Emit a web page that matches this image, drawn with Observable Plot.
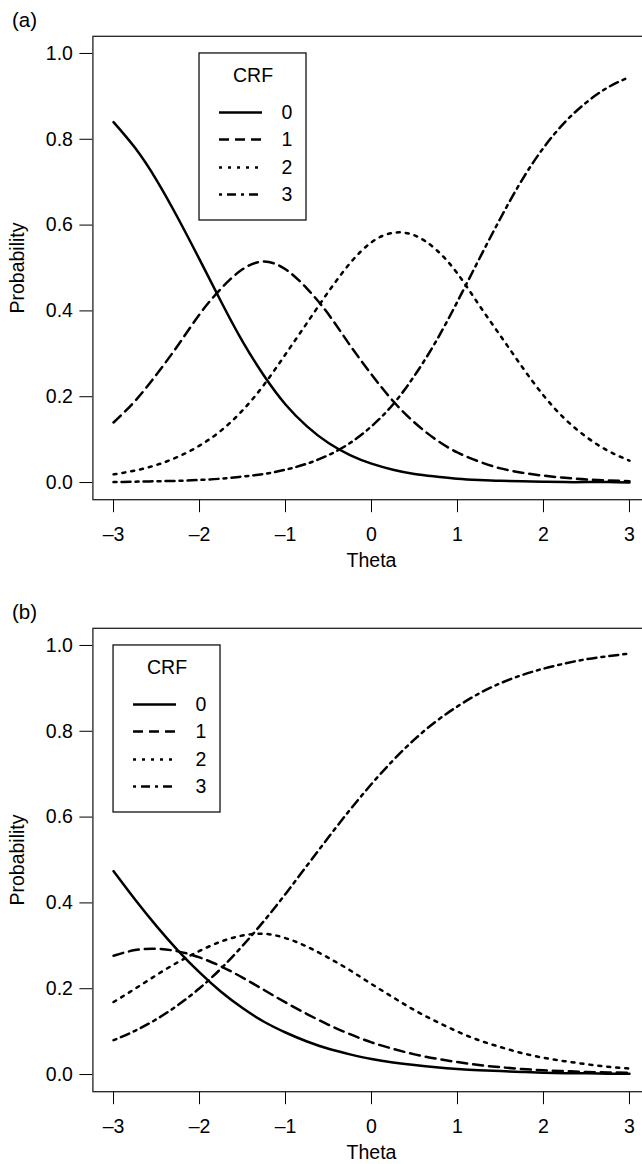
<!DOCTYPE html>
<html><head><meta charset="utf-8">
<script src="https://cdn.jsdelivr.net/npm/d3@7"></script>
<script src="https://cdn.jsdelivr.net/npm/@observablehq/plot@0.6"></script>
<style>
html,body{margin:0;padding:0;background:#fff;overflow:hidden;width:642px;}
#chart svg{display:block;}
</style></head><body><div id="chart"></div>
<script>
// ---- data ----
const theta = [-3, -2.75, -2.5, -2.25, -2, -1.75, -1.5, -1.25, -1, -0.75, -0.5, -0.25, 0,
               0.25, 0.5, 0.75, 1, 1.25, 1.5, 1.75, 2, 2.25, 2.5, 2.75, 3];
const categories = ["0", "1", "2", "3"];

// panel (a)
const a_cat0 = [0.840, 0.780, 0.705, 0.616, 0.520, 0.422, 0.329, 0.249, 0.182, 0.131, 0.092, 0.064, 0.044,
                0.030, 0.020, 0.014, 0.009, 0.006, 0.004, 0.003, 0.002, 0.001, 0.001, 0.001, 0.000];
const a_cat1 = [0.140, 0.190, 0.252, 0.320, 0.392, 0.452, 0.497, 0.515, 0.497, 0.452, 0.392, 0.320, 0.252,
                0.190, 0.140, 0.100, 0.070, 0.049, 0.033, 0.023, 0.016, 0.011, 0.007, 0.005, 0.003];
const a_cat2 = [0.019, 0.028, 0.041, 0.060, 0.086, 0.121, 0.168, 0.228, 0.299, 0.372, 0.445, 0.511, 0.560,
                0.582, 0.576, 0.543, 0.487, 0.414, 0.342, 0.270, 0.203, 0.148, 0.106, 0.074, 0.051];
const a_cat3 = [0.001, 0.002, 0.003, 0.004, 0.006, 0.009, 0.014, 0.020, 0.030, 0.044, 0.064, 0.092, 0.131,
                0.182, 0.249, 0.329, 0.422, 0.520, 0.616, 0.705, 0.780, 0.840, 0.886, 0.921, 0.945];

// panel (b)
const b_cat0 = [0.474, 0.408, 0.346, 0.289, 0.238, 0.193, 0.155, 0.123, 0.098, 0.077, 0.060, 0.047, 0.036,
                0.028, 0.022, 0.017, 0.013, 0.010, 0.008, 0.006, 0.004, 0.003, 0.003, 0.002, 0.002];
const b_cat1 = [0.277, 0.290, 0.293, 0.287, 0.273, 0.252, 0.226, 0.197, 0.168, 0.141, 0.116, 0.094, 0.075,
                0.060, 0.047, 0.037, 0.029, 0.022, 0.017, 0.013, 0.010, 0.008, 0.006, 0.005, 0.004];
const b_cat2 = [0.169, 0.200, 0.232, 0.262, 0.288, 0.310, 0.324, 0.328, 0.318, 0.298, 0.272, 0.243, 0.211,
                0.180, 0.150, 0.124, 0.100, 0.080, 0.064, 0.050, 0.039, 0.031, 0.024, 0.018, 0.014];
const b_cat3 = [0.080, 0.102, 0.129, 0.162, 0.201, 0.247, 0.300, 0.358, 0.421, 0.487, 0.553, 0.617, 0.677,
                0.732, 0.781, 0.823, 0.858, 0.888, 0.912, 0.931, 0.946, 0.958, 0.968, 0.975, 0.981];

const xTicks = [-3, -2, -1, 0, 1, 2, 3];
const yTicks = [0, 0.2, 0.4, 0.6, 0.8, 1.0];
const panelTags = ["(a)", "(b)"];
const legendTitle = "CRF";
const xLabel = "Theta";
const yLabel = "Probability";

// ---- styling ----
const dashes = [null, "10,6", "3,6", "3,5,9,5"];
const FONT = "'Liberation Sans', Arial, Helvetica, sans-serif";
const PX_X = 86;   // px per theta unit
const PX_Y = 429;  // px per probability unit

function rows(series) {
  return series.flatMap((vals, k) => vals.map((p, i) => ({theta: theta[i], p, cat: categories[k]})));
}

function panel(tag, series, legendX, height, marginBottom) {
  const data = rows(series);
  const lx = legendX;
  const boxW = 107 / PX_X, boxH = 167 / PX_Y;
  const rowDy = [59, 86, 114, 141];
  const marks = [
    Plot.frame({stroke: "#222", strokeWidth: 1.3}),
    ...categories.map((c, k) => Plot.line(data.filter(d => d.cat === c), {
      x: "theta", y: "p", curve: "natural", stroke: "#000", strokeWidth: 2.5,
      strokeDasharray: dashes[k] ?? undefined
    })),
    Plot.rect([0], {x1: () => lx, x2: () => lx + boxW, y1: () => 1 - boxH, y2: () => 1,
      fill: "white", stroke: "#111", strokeWidth: 1.3}),
    Plot.text([legendTitle], {x: () => lx, y: () => 1, text: d => d, dx: 53.5, dy: 22,
      textAnchor: "middle", lineAnchor: "middle"}),
    ...categories.map((c, k) => Plot.ruleY([1], {x1: () => lx + 20 / PX_X, x2: () => lx + 63 / PX_X,
      dy: rowDy[k], stroke: "#000", strokeWidth: 2.5, strokeDasharray: dashes[k] ?? undefined})),
    ...categories.map((c, k) => Plot.text([c], {x: () => lx, y: () => 1, text: d => d,
      dx: 82, dy: rowDy[k], textAnchor: "start", lineAnchor: "middle"})),
    Plot.text([yLabel], {frameAnchor: "left", text: d => d, dx: -75, rotate: -90,
      textAnchor: "middle", lineAnchor: "middle"}),
    Plot.text([xLabel], {frameAnchor: "bottom", text: d => d, dy: 61,
      textAnchor: "middle", lineAnchor: "middle"}),
    Plot.text([tag], {frameAnchor: "top-left", text: d => d, dx: -81, dy: -16,
      textAnchor: "start", lineAnchor: "middle", fontSize: 20.5})
  ];
  return Plot.plot({
    width: 642, height,
    marginLeft: 92.4, marginRight: -7.6, marginTop: 35.8, marginBottom,
    x: {domain: [-3.24, 3.24], ticks: xTicks, tickSize: 13, tickPadding: 14,
        tickFormat: d => d < 0 ? "\u2013" + Math.abs(d) : String(d), label: null},
    y: {domain: [-0.04, 1.04], ticks: yTicks, tickSize: 13, tickPadding: 7,
        tickFormat: d => d.toFixed(1), label: null},
    style: {fontFamily: FONT, fontSize: "19.5px", background: "white", color: "#000", overflow: "hidden"},
    marks
  });
}

const chart = document.getElementById("chart");
chart.append(
  panel(panelTags[0], [a_cat0, a_cat1, a_cat2, a_cat3], -2, 592, 92.8),
  panel(panelTags[1], [b_cat0, b_cat1, b_cat2, b_cat3], -3, 572, 72.8)
);
</script></body></html>
